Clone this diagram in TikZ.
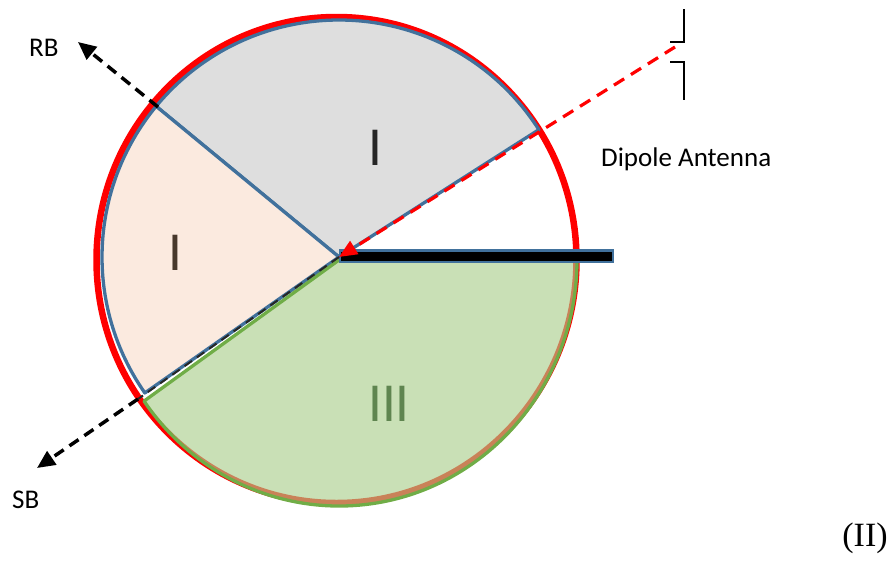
\documentclass[tikz,border=0pt]{standalone}
\usepackage{fontspec}
\setmainfont{Liberation Serif}
\newfontfamily\calfont{Carlito}
\usetikzlibrary{arrows.meta}
\definecolor{outblue}{HTML}{41719C}
\definecolor{outgreen}{HTML}{70AD47}
\definecolor{grayfill}{HTML}{DEDEDE}
\definecolor{peachfill}{HTML}{FBEADF}
\definecolor{greenfill}{RGB}{170,206,140}
\definecolor{ringred}{HTML}{FF0000}
\definecolor{txtgray}{HTML}{262626}
\definecolor{txtpeach}{HTML}{47382B}
\definecolor{txtgreen}{HTML}{5F8550}
\tikzset{
  sector/.style={line width=3.3pt, line join=round},
  beam/.style={black, line width=3.5pt, dash pattern=on 11pt off 7pt, -{Triangle[length=18pt,width=16pt]}},
  lbl/.style={font=\calfont\fontsize{27}{30}\selectfont, inner sep=0pt, anchor=base west},
  roman/.style={font=\calfont\fontsize{55}{60}\selectfont, inner sep=0pt, anchor=base},
  wire/.style={black, line width=2pt}
}
\begin{document}
\begin{tikzpicture}[x=1pt,y=1pt]
\useasboundingbox (0,0) rectangle (896,-562);
\coordinate (O) at (339,-257);
\coordinate (G) at (339,-260);
% red ring
\draw[ringred, line width=6.5pt] (336.5,-260) ellipse[x radius=240, y radius=243];
% sectors
\filldraw[sector, fill=grayfill, draw=outblue] (O) -- ++(32.5:237) arc[start angle=32.5, end angle=140.5, radius=237] -- cycle;
\filldraw[sector, fill=peachfill, draw=outblue] (O) -- ++(140.5:237) arc[start angle=140.5, end angle=215, radius=237] -- cycle;
\fill[greenfill, fill opacity=0.635] (G) -- ++(215:238 and 246) arc[start angle=215, end angle=360, x radius=238, y radius=246] -- cycle;
\draw[sector, draw=outgreen] (G) -- ++(215:238 and 246) arc[start angle=215, end angle=360, x radius=238, y radius=246] -- cycle;
% antenna bar
\filldraw[fill=black, draw=outblue, line width=2.5pt] (340,-250.5) rectangle (613,-262);
% red dashed line to apex
\coordinate (D) at (675,-47);
\draw[ringred, line width=3.2pt, dash pattern=on 12pt off 8pt, -{Triangle[length=18pt,width=15pt]}] (D) -- (O);
% dipole symbol
\coordinate (a1) at (684,-9);
\coordinate (a2) at (684,-42);
\coordinate (a3) at (670,-42);
\coordinate (b1) at (670,-62);
\coordinate (b2) at (684,-62);
\coordinate (b3) at (684,-100);
\draw[wire] (a1) -- (a2) -- (a3);
\draw[wire] (b1) -- (b2) -- (b3);
% beams
\coordinate (RBs) at (158,-107);
\coordinate (RBe) at (78,-42);
\coordinate (SBs) at (138,-399);
\coordinate (SBe) at (37,-468);
\draw[black!85, line width=2pt, dash pattern=on 9pt off 6pt] (O) -- (SBs);
\draw[beam] (RBs) -- (RBe);
\draw[beam] (SBs) -- (SBe);
% labels
\node[lbl] (rb) at (29,-56) {RB};
\node[lbl] (sb) at (12,-508) {SB};
\node[lbl] (dip) at (601,-166) {Dipole Antenna};
\node[roman, text=txtgray] (s1) at (375.5,-165) {I};
\node[roman, text=txtpeach] (s2) at (175,-270) {I};
\node[roman, text=txtgreen] (s3) at (389,-421) {III};
\node[font=\fontsize{34}{36}\selectfont, inner sep=0pt] (fig) at (865,-538) {(II)};
\end{tikzpicture}
\end{document}
